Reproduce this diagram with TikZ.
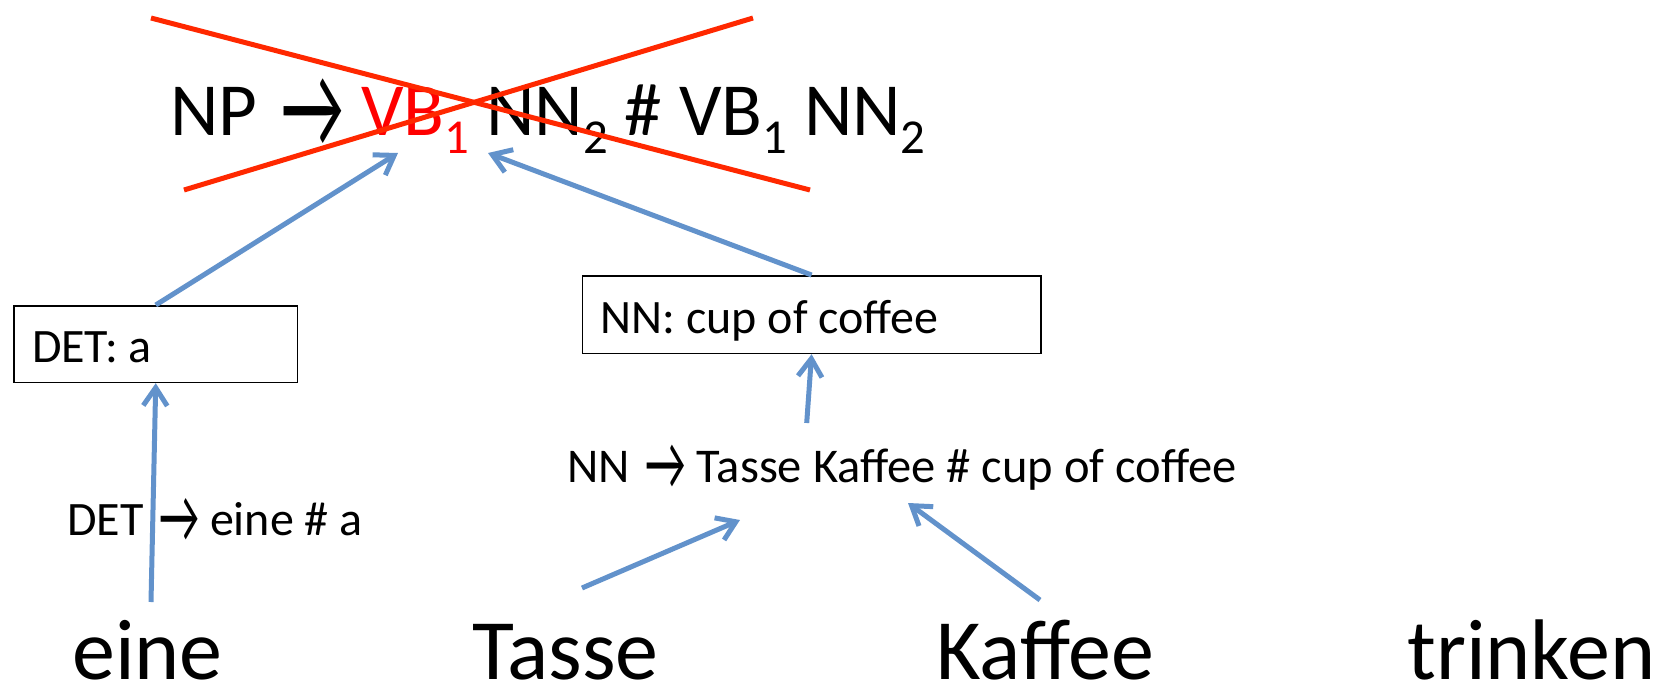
\documentclass[tikz,border=0pt]{standalone}
\usepackage{fontspec}
\setmainfont{Carlito}
\usetikzlibrary{arrows.meta}
\definecolor{linkblue}{RGB}{98,146,203}
\definecolor{crossred}{RGB}{255,40,0}
\definecolor{rulered}{RGB}{255,0,0}
\frenchspacing
% lowered index after a category name
\newcommand{\idx}[1]{\raisebox{-0.24em}{\scalebox{0.65}{#1}}}
% rewrite arrow inside a rule, taller and heavier than the plain glyph
\newcommand{\rarr}{\hspace{0.1em}\raisebox{-0.16em}{\scalebox{0.92}[1.6]{→}}}

\begin{document}
\begin{tikzpicture}[x=1pt,y=-1pt,
  link/.style={draw=linkblue, line width=5pt,
    -{Straight Barb[length=18pt,width=24pt]}},
  cross/.style={draw=crossred, line width=5pt},
  phrasebox/.style={draw=black, line width=1.5pt, anchor=north west,
    inner xsep=18pt, inner ysep=0pt, text height=38pt, text depth=1pt},
  plain/.style={anchor=base west, inner sep=0pt},
  bigrule/.style={plain, font=\fontsize{75}{90}\selectfont},
  midtext/.style={font=\fontsize{48}{57}\selectfont},
  word/.style={plain, text depth=0pt, font=\fontsize{86}{100}\selectfont}]

\useasboundingbox (0,0) rectangle (1655,689);

% top rule, crossed out
\node[bigrule] (np) at (170,135)
  {NP \rarr{} \textcolor{rulered}{VB\idx{1}} NN\idx{2} \# VB\idx{1} NN\idx{2}};
\draw[cross] (151,18) -- (810,190);
\draw[cross] (184,190) -- (753,18);

% partial translations
\node[phrasebox, midtext, minimum width=283.4pt, minimum height=76.7pt] (detbox) at (13.3,305)
  {\makebox[247.4pt][l]{DET: a}};
\node[phrasebox, midtext, minimum width=458.3pt, minimum height=77.7pt] (nnbox) at (581.7,275)
  {\makebox[422.3pt][l]{NN: cup of coffee}};

% lexical rules
\node[plain, midtext] (detrule) at (67,535) {DET \rarr{} eine \# a};
\node[plain, midtext, font=\fontsize{48.5}{58}\selectfont] (nnrule) at (567,482)
  {NN \rarr{} Tasse Kaffee \# cup of coffee};

% source words
\node[word] (eine) at (72,679) {eine};
\node[word] (tasse) at (472,679) {Tasse};
\node[word] (kaffee) at (936,679) {Kaffee};
\node[word] (trinken) at (1407,679) {trinken};

% connector end points
\coordinate (eineTop) at (151,602);
\coordinate (tasseTop) at (582,588);
\coordinate (kaffeeTop) at (1040,600);
\coordinate (ruleIn1) at (740,520);
\coordinate (ruleIn2) at (908,503);
\coordinate (ruleTop) at (806.7,423);
\coordinate (vbLeft) at (398,153);
\coordinate (vbRight) at (488,153);

\draw[link] (eineTop) -- (detbox.south);
\draw[link] (detbox.north) -- (vbLeft);
\draw[link] (tasseTop) -- (ruleIn1);
\draw[link] (kaffeeTop) -- (ruleIn2);
\draw[link] (ruleTop) -- (nnbox.south);
\draw[link] (nnbox.north) -- (vbRight);
\end{tikzpicture}
\end{document}
